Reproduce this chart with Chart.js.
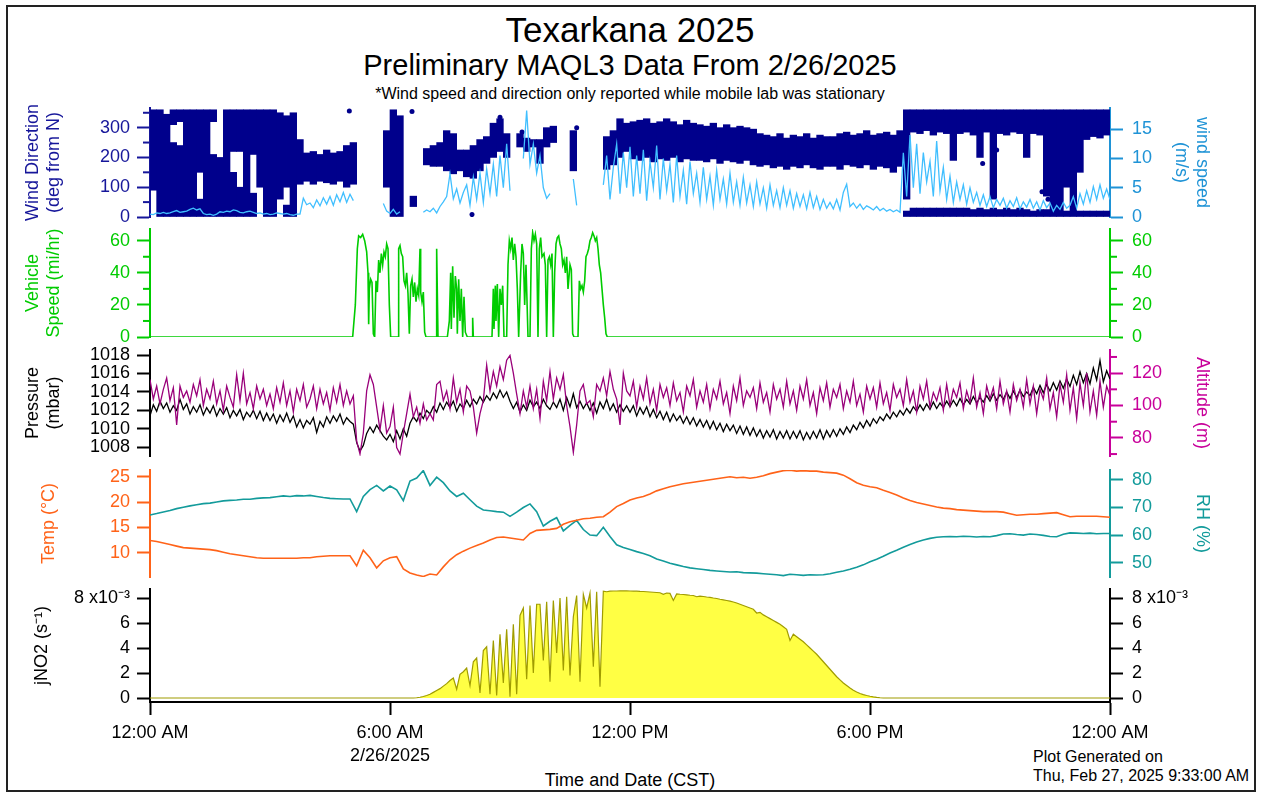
<!DOCTYPE html>
<html>
<head>
<meta charset="utf-8">
<script src="https://cdn.jsdelivr.net/npm/chart.js@4.4.1/dist/chart.umd.min.js"></script>
<style>
body { margin: 0; background: #fff; font-family: "Liberation Sans", Arial, sans-serif; }
#frame { position: absolute; left: 6px; top: 5px; width: 1250px; height: 787px; border: 2px solid #222; box-sizing: border-box; }
canvas { position: absolute; left: 0; }
.txt { position: absolute; white-space: nowrap; color: #000; line-height: 1; }
.ctr { left: 0; width: 1260px; text-align: center; }
</style>
</head>
<body>
<div id="frame"></div>
<div class="txt ctr" style="top:12px;font-size:35px;">Texarkana 2025</div>
<div class="txt ctr" style="top:51px;font-size:29px;">Preliminary MAQL3 Data From 2/26/2025</div>
<div class="txt ctr" style="top:86px;font-size:16px;">*Wind speed and direction only reported while mobile lab was stationary</div>
<div class="txt ctr" style="top:771px;font-size:18px;">Time and Date (CST)</div>
<div class="txt" style="left:1033px;top:749px;font-size:16px;">Plot Generated on</div>
<div class="txt" style="left:1033px;top:768px;font-size:16px;">Thu, Feb 27, 2025 9:33:00 AM</div>
<script>
// x ticks (minutes after midnight)
const xTickVals = [0, 360, 720, 1080, 1440];
const xTickText = ['12:00 AM', ['6:00 AM', '2/26/2025'], '12:00 PM', '6:00 PM', '12:00 AM'];

// wind direction, 10 minute bins (main cluster lo/hi, deg)
const windDirLo = [
  90,0,0,0,0,0,0,150,0,0,0,0,
  220,220,0,210,100,0,0,60,100,0,110,120,
  110,120,115,110,120,100,110,null,null,null,null,100,
  0,0,null,35,null,175,170,170,155,145,155,135,
  130,155,180,200,220,200,null,235,220,235,180,235,
  250,null,null,155,null,null,null,null,160,175,200,220,
  195,190,200,185,195,190,200,185,195,190,190,185,
  195,180,190,185,180,190,175,170,175,165,170,160,
  170,165,175,165,160,170,170,160,175,170,165,175,
  160,170,165,150,170,60,285,280,290,275,285,280,
  190,280,285,275,200,285,60,280,275,285,280,200,
  280,275,70,0,0,100,0,150,260,270,265,275
];
const windDirHi = [
  360,360,345,250,240,360,360,360,360,210,200,360,
  360,360,360,360,360,360,360,350,340,350,260,215,
  220,210,225,215,220,240,250,null,null,null,null,290,
  360,340,null,70,null,230,240,250,290,280,225,225,
  240,260,270,315,330,280,null,280,265,260,260,300,
  305,null,null,290,null,null,null,null,270,290,330,315,
  320,325,330,315,320,330,320,310,325,315,310,305,
  315,300,310,300,305,300,295,280,275,270,280,265,
  275,270,280,265,275,270,270,280,285,275,280,290,
  275,280,285,275,290,360,360,360,360,360,360,360,
  360,360,360,360,360,360,360,360,360,360,360,360,
  360,360,360,360,360,360,360,360,360,360,360,360
];
// second wind direction cluster (bin start minute, lo, hi)
const windDir2Time = [30,40,70,90,120,130,150,200,
  1130,1140,1150,1160,1170,1180,1190,1200,1210,1220,1230,1240,1250,1260,1270,1280,1290,1300,1310,1320,1330,1340,
  1370,1390,1400,1410,1420,1430];
const windDir2Lo = [310,320,0,320,0,0,0,0,
  0,0,0,0,0,0,0,0,0,0,0,0,0,0,0,0,0,0,0,0,0,0,
  0,0,0,0,0,0];
const windDir2Hi = [360,360,60,360,150,100,80,40,
  20,30,30,30,30,30,30,30,30,30,25,30,25,30,25,30,25,30,25,20,25,25,
  20,20,20,20,20,20];
// isolated wind direction points
const windDirDotTime = [299, 393, 483, 525, 558, 640, 1249, 1265, 1270, 1315, 1338, 1347];
const windDirDotVal = [356, 354, 8, 335, 285, 300, 180, 140, 225, 215, 85, 60];

// wind speed, 5 minute steps (m/s)
const windSpeed = [
  0.5,0.4,0.7,0.6,0.8,0.6,0.7,0.9,1.1,0.8,0.9,1.0,
  1.3,1.5,1.2,1.4,0.6,0.4,0.5,0.3,0.5,0.9,0.8,1.0,
  0.9,1.2,1.1,0.8,0.7,0.9,1.0,0.8,0.6,0.7,0.5,0.6,
  0.4,0.5,0.7,0.6,0.5,0.6,0.4,0.3,0.5,0.5,3.2,2.1,
  2.4,1.6,2.9,1.9,3.3,2.2,3.5,2.0,3.8,2.6,4.2,2.5,
  3.9,2.8,null,null,null,null,null,null,null,null,2.3,1.0,
  0.6,1.3,0.5,0.9,null,null,2.6,null,null,null,0.8,1.2,
  0.9,1.5,0.7,1.8,2.6,3.5,7.4,3.1,4.8,2.4,4.2,5.5,
  2.0,6.8,3.0,7.5,2.5,8.2,4.0,9.0,3.5,10.5,5.0,12.5,
  4.5,null,null,null,10.0,18.2,9.0,12.5,7.5,10.5,5.0,3.2,
  4.0,null,null,3.0,null,null,null,6.5,2.0,null,null,null,
  null,null,null,null,5.5,10.5,3.0,8.5,12.5,4.0,11.0,5.0,
  12.0,3.5,10.5,4.0,11.5,2.8,9.5,5.0,12.2,3.0,10.0,4.5,
  9.0,2.5,10.5,3.5,8.0,2.2,9.5,4.0,7.5,2.5,8.5,3.0,
  7.0,2.0,8.0,3.0,6.5,2.2,7.5,2.5,6.0,2.0,6.8,2.4,
  5.5,1.8,6.0,2.2,5.0,1.5,5.5,2.0,4.5,1.6,5.0,2.0,
  4.5,1.5,4.0,1.8,3.8,1.4,4.2,1.6,3.5,1.3,3.0,1.5,
  2.5,1.4,3.0,1.2,4.2,5.6,1.8,2.4,1.5,2.2,1.3,1.9,
  1.6,1.2,1.8,1.1,1.5,1.0,1.3,0.9,1.2,0.8,11.0,3.5,
  14.0,5.0,12.5,4.0,11.0,6.0,9.5,3.5,13.0,4.5,8.5,3.0,
  7.0,2.5,6.0,3.0,5.5,2.2,5.0,2.5,4.2,2.0,3.8,1.8,
  3.5,1.6,3.0,2.0,3.2,1.5,2.8,1.8,3.3,1.4,2.6,1.7,
  3.0,1.5,2.6,1.2,2.8,1.6,2.4,1.0,2.0,1.3,2.5,1.5,
  2.0,3.5,1.5,4.0,2.2,4.5,2.5,5.2,3.0,5.5,3.2,4.8,
  3.0
];

// vehicle speed (minute, mi/hr)
const vehTime = [0,304,308,311,313,316,319,322,325,327,328,329,331,333,335,337,339,341,343,345,347,349,351,353,355,357,359,361,
  372,373,375,377,379,381,383,385,387,389,391,393,395,397,399,401,403,405,406,408,410,412,414,429,430,432,
  446,449,451,452,454,456,458,460,461,463,465,467,469,471,473,476,483,484,485,
  513,515,516,518,519,521,523,525,527,529,531,
  535,537,539,541,543,545,547,549,551,553,556,558,560,562,564,567,570,572,574,576,578,580,582,584,586,588,591,593,595,
  597,599,601,603,605,607,609,611,613,615,617,619,621,623,625,627,630,632,634,636,
  642,644,646,648,650,652,654,656,658,660,662,664,666,668,670,672,674,676,678,680,682,684,686,1440];
const vehSpeed = [0,0,20,55,63,62,64,60,53,40,8,30,36,34,2,0,35,28,48,40,52,45,53,50,58,55,20,0,
  0,55,57,52,50,35,32,40,27,2,32,36,25,34,22,30,26,55,28,22,28,3,0,0,55,0,
  0,10,40,5,44,12,38,30,2,36,10,30,0,25,3,0,0,12,0,
  0,30,5,32,10,33,0,30,20,32,0,
  0,45,60,55,62,48,58,50,30,0,40,58,52,20,45,0,0,55,65,60,64,58,0,55,62,50,52,45,0,
  48,50,45,52,0,40,58,62,63,58,55,45,48,40,50,30,45,42,2,0,
  0,35,30,32,28,35,50,52,55,60,62,65,63,60,62,55,45,40,30,20,12,2,0,0];

// pressure, 5 minute steps (mbar)
const pressure = [
  1011.4,1012.6,1011.9,1013.0,1012.2,1012.8,1011.8,1012.5,1012.0,1013.2,1012.1,1012.7,
  1011.6,1012.4,1011.8,1012.6,1011.5,1012.3,1011.7,1012.5,1011.4,1012.2,1011.6,1012.3,
  1011.2,1012.0,1011.4,1012.1,1011.0,1011.8,1011.3,1012.0,1011.1,1011.9,1010.9,1011.7,
  1010.9,1011.6,1010.6,1011.5,1010.8,1011.7,1010.7,1011.4,1010.2,1011.0,1010.1,1010.9,
  1010.5,1011.2,1009.6,1010.8,1010.2,1011.3,1010.6,1011.4,1010.8,1011.6,1010.5,1011.2,
  1010.8,1010.5,1008.5,1007.6,1008.2,1009.5,1010.2,1009.6,1010.4,1009.8,1009.2,1008.8,
  1009.4,1008.6,1009.8,1008.9,1010.0,1009.2,1010.6,1011.3,1010.8,1011.7,1011.1,1012.0,
  1011.6,1012.4,1011.8,1012.8,1012.1,1012.9,1012.3,1013.0,1011.9,1012.7,1012.2,1013.1,
  1012.4,1013.2,1012.7,1013.5,1012.9,1013.6,1013.1,1013.9,1013.3,1014.2,1013.4,1014.0,
  1013.0,1012.2,1012.9,1011.8,1012.6,1012.0,1013.1,1012.4,1012.9,1012.2,1013.2,1012.5,
  1012.1,1012.9,1012.3,1013.2,1012.0,1013.4,1012.4,1013.8,1012.3,1013.0,1012.2,1012.8,
  1012.0,1012.8,1011.7,1012.9,1012.2,1013.2,1012.0,1012.7,1011.8,1012.6,1011.9,1012.5,
  1011.8,1012.5,1011.4,1012.3,1011.6,1012.4,1011.3,1012.1,1011.2,1011.9,1011.0,1011.8,
  1010.8,1011.6,1010.9,1011.4,1010.6,1011.3,1010.5,1011.2,1010.3,1011.0,1010.2,1010.9,
  1010.0,1010.8,1009.9,1010.6,1009.7,1010.5,1009.8,1010.4,1009.5,1010.3,1009.4,1010.2,
  1009.3,1010.1,1009.2,1009.9,1009.0,1009.8,1009.1,1009.9,1008.9,1009.7,1009.0,1009.8,
  1008.9,1009.7,1009.0,1009.8,1008.8,1009.6,1008.9,1009.7,1009.0,1009.9,1008.9,1009.8,
  1009.1,1009.9,1009.2,1010.0,1009.4,1010.2,1009.6,1010.4,1009.9,1010.7,1010.1,1010.9,
  1010.3,1011.1,1010.6,1011.3,1010.9,1011.6,1011.1,1011.8,1011.3,1012.0,1011.5,1012.2,
  1011.7,1012.4,1011.9,1012.6,1012.0,1012.7,1012.1,1012.9,1012.2,1012.8,1012.3,1013.0,
  1012.4,1013.1,1012.5,1013.3,1012.6,1013.2,1012.7,1013.5,1012.8,1013.4,1012.9,1013.6,
  1013.0,1013.8,1013.1,1013.7,1013.2,1014.0,1013.3,1014.1,1013.4,1014.2,1013.5,1014.0,
  1013.6,1014.5,1013.8,1014.7,1013.9,1014.8,1014.1,1015.0,1014.2,1015.2,1014.4,1015.4,
  1014.6,1015.8,1014.8,1016.2,1015.0,1016.0,1014.9,1016.6,1015.3,1017.4,1015.1,1016.3,
  1015.4
];

// altitude, 5 minute steps (m)
const altitude = [
  116,104,112,101,110,117,103,111,88,112,105,109,
  102,113,106,116,100,110,104,115,101,109,97,112,
  105,99,119,103,120,101,108,98,112,104,110,100,
  107,98,111,102,114,100,109,96,110,103,113,99,
  104,112,98,110,101,108,97,111,102,113,100,109,
  101,106,78,70,83,109,119,113,99,85,100,83,
  87,99,74,70,83,95,107,93,99,89,101,91,
  95,91,113,115,103,109,98,117,102,110,96,112,
  109,99,83,95,103,125,109,121,112,124,116,128,
  131,120,107,95,109,99,112,98,110,92,115,103,
  121,104,117,110,119,100,87,71,88,109,113,101,
  103,93,113,109,117,106,121,110,104,88,120,109,
  106,115,99,112,104,117,101,110,97,113,105,111,
  100,114,103,108,96,112,106,116,99,109,102,113,
  98,110,104,115,101,108,95,112,103,117,100,109,
  105,111,98,114,102,108,96,113,104,110,99,115,
  101,109,97,112,104,116,100,108,95,111,103,114,
  99,110,105,113,98,109,102,115,100,107,96,112,
  104,111,99,114,101,108,97,113,105,110,100,116,
  102,109,96,112,104,115,99,108,103,111,97,113,
  100,110,105,114,98,109,102,117,99,108,95,112,
  104,111,98,115,101,109,96,113,103,110,99,116,
  101,112,95,110,104,117,98,108,93,113,102,119,
  97,111,92,114,100,120,96,109,94,115,99,112,
  106
];

// temperature, 10 minute steps (deg C)
const temperature = [
  12.4,12.2,11.9,11.6,11.3,11.0,10.9,10.8,10.7,10.6,10.4,10.1,
  9.8,9.6,9.4,9.2,9.0,8.9,8.9,8.9,8.9,8.9,8.9,9.0,
  9.0,9.2,9.3,9.4,9.4,9.4,9.4,7.4,10.5,9.0,7.0,8.4,
  9.0,9.2,6.8,6.0,5.6,5.3,5.8,5.6,7.2,8.6,9.6,10.3,
  10.9,11.4,11.9,12.5,13.0,13.1,12.9,12.7,12.5,13.8,14.4,14.5,
  14.6,14.8,15.6,16.1,16.4,16.7,16.8,17.0,17.1,18.0,19.1,19.7,
  20.4,20.8,21.1,21.6,22.2,22.6,23.0,23.3,23.6,23.8,24.0,24.2,
  24.4,24.6,24.8,25.0,24.8,24.9,24.7,24.9,25.2,25.6,25.9,26.2,
  26.3,26.1,26.2,26.1,26.1,25.9,25.8,25.7,25.3,24.6,23.8,23.3,
  23.0,22.8,22.3,21.9,21.4,20.8,20.3,19.9,19.6,19.3,19.0,18.8,
  18.7,18.5,18.4,18.3,18.2,18.1,18.1,18.1,18.0,17.7,17.4,17.5,
  17.6,17.6,17.7,17.8,17.9,17.5,17.1,17.2,17.2,17.2,17.2,17.1,
  17.0
];

// relative humidity, 10 minute steps (%)
const humidity = [
  67.3,67.8,68.4,68.9,69.6,70.1,70.6,71.0,71.4,71.6,72.0,72.4,
  72.6,72.7,73.0,73.0,73.3,73.5,73.6,73.9,74.2,74.0,74.3,74.2,
  74.4,74.0,73.6,73.3,73.2,73.1,73.1,68.5,74.0,76.5,78.0,76.0,
  77.8,76.4,72.5,79.6,80.7,83.4,78.0,81.0,79.0,76.0,74.0,75.2,
  72.8,70.5,69.1,68.8,68.5,68.3,66.8,68.3,70.0,71.3,68.5,63.3,
  65.0,66.3,61.5,63.5,65.3,62.0,60.0,59.8,62.8,59.5,56.5,55.5,
  54.8,54.0,53.3,52.5,51.3,50.6,49.8,49.2,48.6,48.1,47.8,47.5,
  47.2,47.0,46.8,46.6,46.7,46.4,46.3,46.2,46.0,45.8,45.6,45.3,
  45.8,45.6,45.4,45.6,45.5,45.6,46.0,46.5,47.0,47.6,48.3,49.2,
  50.3,51.2,52.3,53.5,54.5,55.6,56.6,57.5,58.2,58.8,59.2,59.4,
  59.5,59.4,59.6,59.5,59.3,59.5,59.4,59.8,60.4,60.5,60.2,60.0,
  60.4,60.2,59.9,59.5,59.4,60.3,60.8,60.7,60.6,60.7,60.5,60.6,
  60.6
];

// jNO2, 5 minute steps (x10^-3 s^-1)
const jNO2 = [
  0,0,0,0,0,0,0,0,0,0,0,0,
  0,0,0,0,0,0,0,0,0,0,0,0,
  0,0,0,0,0,0,0,0,0,0,0,0,
  0,0,0,0,0,0,0,0,0,0,0,0,
  0,0,0,0,0,0,0,0,0,0,0,0,
  0,0,0,0,0,0,0,0,0,0,0,0,
  0,0,0,0,0,0,0,0,0.02,0.06,0.12,0.2,
  0.3,0.45,0.6,0.75,0.95,1.15,1.4,1.6,0.7,1.9,2.1,2.4,
  1.0,2.9,3.2,0.4,3.8,4.1,0.3,4.6,0.2,5.1,1.2,5.5,
  0.1,5.9,0.3,6.6,7.2,1.5,7.4,2.0,7.5,7.5,3.0,7.7,
  1.3,7.8,3.6,8.0,2.2,8.1,1.8,6.5,8.2,1.3,8.3,7.2,
  8.4,2.5,8.5,0.9,8.55,8.5,8.55,8.56,8.56,8.57,8.57,8.57,
  8.56,8.55,8.55,8.53,8.52,8.5,8.48,8.46,8.44,8.42,8.3,8.4,
  8.37,7.8,8.33,8.3,8.28,8.25,8.22,8.2,8.1,8.15,8.12,8.08,
  8.05,8.0,7.96,7.9,7.85,7.8,7.75,7.68,7.6,7.5,7.4,7.3,
  7.2,7.1,6.8,6.85,6.65,6.5,6.35,6.2,6.05,5.9,5.7,5.5,
  4.6,5.1,4.9,4.7,4.5,4.25,4.0,3.75,3.5,3.2,2.9,2.6,
  2.3,2.0,1.7,1.45,1.2,1.0,0.8,0.62,0.48,0.36,0.27,0.2,
  0.14,0.09,0.05,0.02,0,0,0,0,0,0,0,0,
  0,0,0,0,0,0,0,0,0,0,0,0,
  0,0,0,0,0,0,0,0,0,0,0,0,
  0,0,0,0,0,0,0,0,0,0,0,0,
  0,0,0,0,0,0,0,0,0,0,0,0,
  0,0,0,0,0,0,0,0,0,0,0,0,
  0
];

// axis ticks
const wdTicks = [0, 100, 200, 300], wdMinor = [50, 150, 250, 350];
const wsTicks = [0, 5, 10, 15];
const vehTicks = [0, 20, 40, 60], vehMinor = [10, 30, 50];
const presTicks = [1008, 1010, 1012, 1014, 1016, 1018];
const altTicks = [80, 100, 120], altMinor = [70, 90, 110, 130];
const tempTicks = [10, 15, 20, 25];
const rhTicks = [50, 60, 70, 80];
const jTicks = [0, 2, 4, 6, 8];

Chart.defaults.font.family = '"Liberation Sans", Arial, sans-serif';
Chart.defaults.font.size = 18;
Chart.defaults.animation = false;
Chart.defaults.plugins.legend.display = false;
Chart.defaults.plugins.tooltip.enabled = false;
Chart.defaults.elements.point.radius = 0;
Chart.defaults.elements.line.tension = 0;

const pts = (times, vals) => vals.map((v, i) => ({x: times[i], y: v}));
const grid5 = arr => arr.map((v, i) => ({x: i * 5, y: v}));
const grid10 = arr => arr.map((v, i) => ({x: i * 10, y: v}));

function xAxis(show) {
    const ax = {
        type: 'linear', min: 0, max: 1440, offset: false, display: show,
        afterBuildTicks: s => { s.ticks = xTickVals.map(v => ({value: v})); },
        ticks: {
            color: '#000', padding: 7, autoSkip: false, maxRotation: 0,
            font: {size: 18, lineHeight: 1.25},
            callback: v => xTickText[xTickVals.indexOf(v)]
        },
        grid: {drawOnChartArea: false, tickLength: 13, tickWidth: 2, tickColor: '#000'},
        border: {display: true, color: '#000', width: 2}
    };
    if (show) ax.afterFit = s => { s.height = 80; };
    return ax;
}

function yAxis(side, o) {
    const left = side === 'left';
    return {
        type: 'linear', position: side, min: o.min, max: o.max,
        afterFit: s => { s.width = left ? 140 : 113; },
        afterBuildTicks: s => { s.ticks = o.ticks.map(v => ({value: v})); },
        ticks: {
            color: o.color, padding: left ? 7 : 9, autoSkip: false,
            callback: o.fmt || (v => String(v))
        },
        grid: {drawOnChartArea: false, tickLength: 13, tickWidth: 2, tickColor: o.color},
        border: {display: true, color: o.color, width: 2},
        title: {
            display: !!o.title, text: o.title, color: o.titleColor || o.color,
            font: {size: 18, lineHeight: 1.15}, padding: {top: o.tpad || 0, bottom: 0}
        }
    };
}

function minorTicks(spec) {
    return {
        id: 'minorTicks',
        afterDraw(chart) {
            const ctx = chart.ctx;
            spec.forEach(m => {
                const s = chart.scales[m.axis];
                const left = s.position === 'left';
                const x0 = left ? s.right : s.left;
                ctx.save();
                ctx.strokeStyle = m.color;
                ctx.lineWidth = 2;
                m.values.forEach(v => {
                    const y = s.getPixelForValue(v);
                    ctx.beginPath();
                    ctx.moveTo(x0, y);
                    ctx.lineTo(left ? x0 - 7 : x0 + 7, y);
                    ctx.stroke();
                });
                ctx.restore();
            });
        }
    };
}

// y tick labels need ~20px of room above and below the plot area
const PAD = 21;
function panel(areaTop, areaHeight, bottom, config) {
    const c = document.createElement('canvas');
    c.width = 1263;
    c.height = bottom ? PAD + areaHeight + 80 : areaHeight + 2 * PAD;
    c.style.top = (areaTop - PAD) + 'px';
    document.body.appendChild(c);
    config.options.responsive = false;
    config.options.layout = {padding: {left: 10, right: 40, top: PAD, bottom: bottom ? 0 : PAD}};
    return new Chart(c, config);
}

//wind
const navy = '#00008C';
const band1 = windDirLo.map((lo, k) => lo === null ? null : {x: k * 10 + 5, y: [lo, windDirHi[k]]}).filter(Boolean);
const band2 = windDir2Lo.map((lo, i) => ({x: windDir2Time[i] + 5, y: [lo, windDir2Hi[i]]}));
panel(108, 109, false, {
    type: 'bar',
    data: {
        datasets: [{
            type: 'line', label: 'wind speed', yAxisID: 'y2', order: 0,
            data: grid5(windSpeed), borderColor: '#40BFFF', borderWidth: 1.3, spanGaps: false
        }, {
            type: 'line', label: 'dir dots', yAxisID: 'y', order: 1, showLine: false,
            data: pts(windDirDotTime, windDirDotVal), pointRadius: 2.5, pointBackgroundColor: navy, pointBorderWidth: 0
        }, {
            label: 'dir', yAxisID: 'y', order: 2, data: band1, backgroundColor: navy,
            borderWidth: 0, barPercentage: 1, categoryPercentage: 1, grouped: false
        }, {
            label: 'dir2', yAxisID: 'y', order: 3, data: band2, backgroundColor: navy,
            borderWidth: 0, barPercentage: 1, categoryPercentage: 1, grouped: false
        }]
    },
    options: {
        scales: {
            x: xAxis(false),
            y: yAxis('left', {min: 0, max: 366, ticks: wdTicks, color: '#16169A',
                title: ['Wind Direction', '(deg from N)'], tpad: 13}),
            y2: yAxis('right', {min: 0, max: 18.64, ticks: wsTicks, color: '#1F93D6',
                title: ['wind speed', '(m/s)'], tpad: 11})
        }
    },
    plugins: [minorTicks([{axis: 'y', values: wdMinor, color: '#16169A'}])]
});

//vehicle
panel(229, 108, false, {
    type: 'line',
    data: {
        datasets: [{
            label: 'vehicle', yAxisID: 'y', data: pts(vehTime, vehSpeed),
            borderColor: '#00CC00', borderWidth: 1.6
        }]
    },
    options: {
        scales: {
            x: xAxis(false),
            y: yAxis('left', {min: 0, max: 67.3, ticks: vehTicks, color: '#00CC00',
                title: ['Vehicle', 'Speed (mi/hr)'], tpad: 13}),
            y2: yAxis('right', {min: 0, max: 67.3, ticks: vehTicks, color: '#00CC00'})
        }
    },
    plugins: [minorTicks([{axis: 'y', values: vehMinor, color: '#00CC00'}, {axis: 'y2', values: vehMinor, color: '#00CC00'}])]
});

//pressure and altitude
panel(350, 106.5, false, {
    type: 'line',
    data: {
        datasets: [{
            label: 'altitude', yAxisID: 'y2', order: 0, data: grid5(altitude),
            borderColor: '#99007A', borderWidth: 1.3
        }, {
            label: 'pressure', yAxisID: 'y', order: 1, data: grid5(pressure),
            borderColor: '#000000', borderWidth: 1.3
        }]
    },
    options: {
        scales: {
            x: xAxis(false),
            y: yAxis('left', {min: 1007.05, max: 1018.55, ticks: presTicks, color: '#000',
                title: ['Pressure', '(mbar)'], tpad: 13}),
            y2: yAxis('right', {min: 68.8, max: 134.3, ticks: altTicks, color: '#C8009A',
                title: 'Altitude (m)', tpad: 11})
        }
    },
    plugins: [minorTicks([{axis: 'y2', values: altMinor, color: '#C8009A'}])]
});

//temperature and RH
panel(470, 107, false, {
    type: 'line',
    data: {
        datasets: [{
            label: 'temp', yAxisID: 'y', data: grid10(temperature),
            borderColor: '#FF6319', borderWidth: 1.6
        }, {
            label: 'rh', yAxisID: 'y2', data: grid10(humidity),
            borderColor: '#139B9B', borderWidth: 1.6
        }]
    },
    options: {
        scales: {
            x: xAxis(false),
            y: yAxis('left', {min: 5.2, max: 26.32, ticks: tempTicks, color: '#FF6319',
                title: 'Temp (°C)', tpad: 29}),
            y2: yAxis('right', {min: 44.8, max: 83.6, ticks: rhTicks, color: '#139B9B',
                title: 'RH (%)', tpad: 11})
        }
    }
});

//jNO2
const jFmt = v => v === 8 ? '8 x10⁻³' : String(v);
panel(589, 113, true, {
    type: 'line',
    data: {
        datasets: [{
            label: 'jNO2', yAxisID: 'y', data: grid5(jNO2),
            borderColor: '#A09C00', borderWidth: 1.2,
            fill: 'origin', backgroundColor: '#FFFF44'
        }]
    },
    options: {
        scales: {
            x: xAxis(true),
            y: yAxis('left', {min: -0.32, max: 8.72, ticks: jTicks, color: '#000',
                title: 'jNO2 (s⁻¹)', tpad: 22, fmt: jFmt}),
            y2: yAxis('right', {min: -0.32, max: 8.72, ticks: jTicks, color: '#000', fmt: jFmt})
        }
    }
});
</script>
</body>
</html>
